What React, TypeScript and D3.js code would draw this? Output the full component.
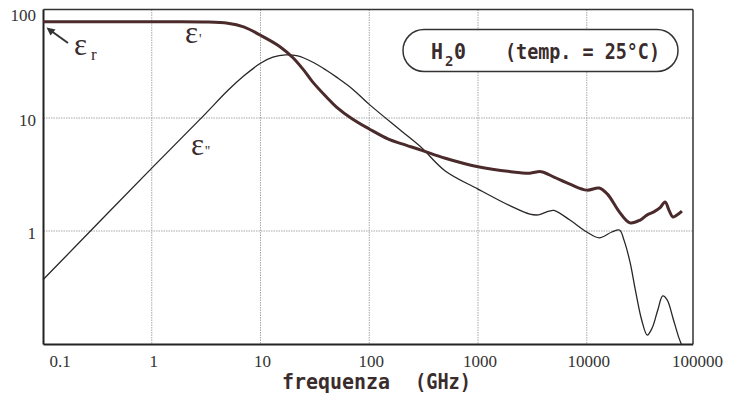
import React from "react";
import * as d3 from "d3";

const freqEps1 = [0.1, 1, 3, 5, 7, 10, 15, 20, 25, 30, 40, 50, 70, 100, 150, 200, 300, 500, 1000, 2000, 3000, 3800, 5000, 7000, 10000, 13000, 15500, 20000, 25000, 31000, 36000, 41000, 47000, 52500, 57000, 62000, 68000, 75000];
const eps1 = [71, 71, 70.8, 69, 64, 54, 43, 34, 26.5, 21, 15.5, 12.5, 9.8, 8.0, 6.5, 5.9, 5.2, 4.4, 3.7, 3.35, 3.25, 3.35, 3.0, 2.6, 2.3, 2.4, 2.12, 1.47, 1.18, 1.25, 1.39, 1.47, 1.6, 1.81, 1.53, 1.33, 1.39, 1.5];

// ε'' (imaginary part)
const freqEps2 = [0.1, 1, 3, 5, 7, 10, 13, 17, 22, 30, 40, 50, 70, 100, 200, 300, 500, 1000, 2000, 3000, 3600, 4500, 5000, 7000, 10000, 13000, 17000, 20000, 22000, 25000, 28000, 32000, 36000, 40000, 45000, 50000, 55000, 62000, 70000, 74000];
const eps2 = [0.37, 3.6, 10.5, 17.5, 23.5, 30.5, 34.5, 36.2, 35.4, 31.3, 26.6, 23, 18.1, 13.2, 7.6, 5.5, 3.4, 2.35, 1.66, 1.41, 1.39, 1.5, 1.52, 1.25, 0.98, 0.87, 0.98, 1.02, 0.83, 0.53, 0.3, 0.163, 0.12, 0.139, 0.2, 0.266, 0.245, 0.17, 0.115, 0.1];

const xTicks = [0.1, 1, 10, 100, 1000, 10000, 100000];
const xTickLabels = ["0.1", "1", "10", "100", "1000", "10000", "100000"];
const xGrid = [1, 10, 100, 1000, 10000];
const yTicks = [100, 10, 1];
const yTickLabels = ["100", "10", "1"];
const yGrid = [10, 1];

export default function App() {
  const x = d3.scaleLog().domain([0.1, 100000]).range([43, 695.5]);
  const y = d3.scaleLog().domain([0.1, 100]).range([344, 5]);
  const left = 43.5, right = 693, top = 9.5, bottom = 344.5;

  const line = d3
    .line<[number, number]>()
    .x((d) => x(d[0]))
    .y((d) => y(d[1]))
    .curve(d3.curveCatmullRom.alpha(0.5));

  const d1 = line(freqEps1.map((f, i) => [f, eps1[i]] as [number, number])) || "";
  const d2 = line(freqEps2.map((f, i) => [f, eps2[i]] as [number, number])) || "";

  const txt = "#3a2c2c";
  const serif = "'Liberation Serif', 'Times New Roman', serif";
  const mono = "'DejaVu Sans Mono', monospace";

  return (
    <svg width={733} height={396} style={{ position: "absolute", left: 0, top: 0, background: "#fff" }}>
      <rect x={0} y={0} width={733} height={396} fill="#fff" />
      {/* grid */}
      {xGrid.map((v) => (
        <line key={"gx" + v} x1={x(v)} x2={x(v)} y1={top} y2={bottom} stroke="#a8a8a8" strokeWidth={1} strokeDasharray="1.5,1" />
      ))}
      {yGrid.map((v) => (
        <line key={"gy" + v} x1={left} x2={right} y1={y(v)} y2={y(v)} stroke="#a8a8a8" strokeWidth={1} strokeDasharray="1.5,1" />
      ))}
      {/* frame */}
      <line x1={left} x2={right} y1={top} y2={top} stroke="#333" strokeWidth={1.5} />
      <line x1={right} x2={right} y1={top} y2={bottom} stroke="#333" strokeWidth={1.5} />
      <line x1={left} x2={left} y1={top} y2={bottom} stroke="#222" strokeWidth={2} />
      <line x1={left} x2={right} y1={bottom} y2={bottom} stroke="#222" strokeWidth={2} />

      {/* curves */}
      <path d={d2} fill="none" stroke="#2a2626" strokeWidth={1.3} />
      <path d={d1} fill="none" stroke="#4a2a2a" strokeWidth={3} strokeLinejoin="round" />

      {/* tick labels */}
      {yTicks.map((v, i) => (
        <text key={"yt" + v} x={36} y={i === 0 ? 21 : y(v) + 8} textAnchor="end" fontFamily={serif} fontSize={17} fill="#333">
          {yTickLabels[i]}
        </text>
      ))}
      {xTicks.map((v, i) => (
        <text key={"xt" + v} x={i === 0 ? x(v) + 17 : x(v) + 2} y={367} textAnchor="middle" fontFamily={serif} fontSize={17} fill="#333">
          {xTickLabels[i]}
        </text>
      ))}

      {/* axis title */}
      <text x={282} y={389} fontFamily={mono} fontWeight="bold" fontSize={21} fill={txt} textLength={108} lengthAdjust="spacingAndGlyphs">
        frequenza
      </text>
      <text x={415} y={389} fontFamily={mono} fontWeight="bold" fontSize={21} fill={txt} textLength={56} lengthAdjust="spacingAndGlyphs">
        (GHz)
      </text>

      {/* title pill */}
      <rect x={403} y={29.5} width={275} height={42} rx={21} ry={21} fill="#fff" stroke="#333" strokeWidth={1.5} />
      <text x={431} y={59} fontFamily={mono} fontWeight="bold" fontSize={21} fill={txt} textLength={12} lengthAdjust="spacingAndGlyphs">H</text>
      <text x={445} y={66} fontFamily={mono} fontWeight="bold" fontSize={14} fill={txt}>2</text>
      <text x={454} y={59} fontFamily={mono} fontWeight="bold" fontSize={21} fill={txt} textLength={12} lengthAdjust="spacingAndGlyphs">0</text>
      <text x={505} y={59} fontFamily={mono} fontWeight="bold" fontSize={21} fill={txt} textLength={155} lengthAdjust="spacingAndGlyphs">
        (temp. = 25°C)
      </text>

      {/* annotations */}
      <text x={185} y={43} fontFamily={serif} fontSize={31} fill={txt}>ε</text>
      <text x={199} y={44} fontFamily={serif} fontSize={14} fill={txt}>'</text>
      <text x={191} y={155} fontFamily={serif} fontSize={31} fill={txt}>ε</text>
      <text x={205} y={156} fontFamily={serif} fontSize={14} fill={txt}>''</text>
      <text x={74} y={55} fontFamily={serif} fontSize={31} fill={txt}>ε</text>
      <text x={91} y={60} fontFamily={serif} fontSize={17} fill={txt}>r</text>
      <line x1={68} y1={43} x2={52} y2={31.5} stroke="#333" strokeWidth={2} />
      <path d="M46.5,27.5 L55.5,29.5 L50.5,35.5 Z" fill="#333" />
    </svg>
  );
}
